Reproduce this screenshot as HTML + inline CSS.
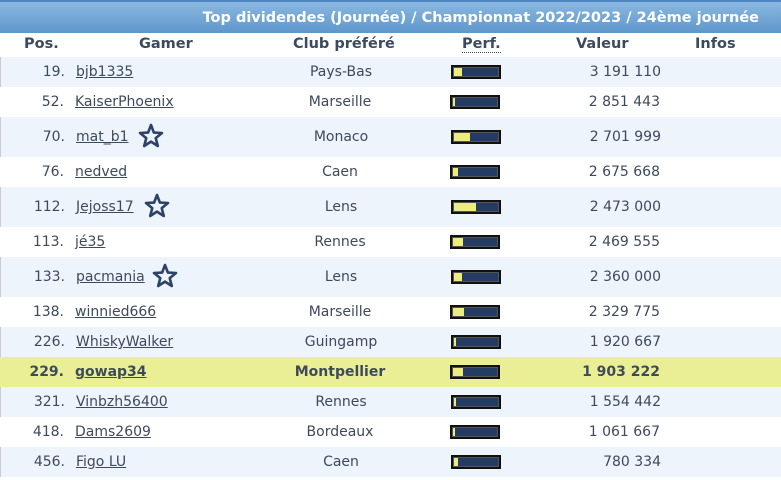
<!DOCTYPE html>
<html><head><meta charset="utf-8"><style>
*{margin:0;padding:0;box-sizing:border-box}
body{width:781px;height:480px;background:#fff;font-family:"DejaVu Sans",Verdana,sans-serif;font-size:14px;color:#3d4a5c;overflow:hidden;position:relative}
.title{position:absolute;left:0;top:0;width:781px;height:33px;background:linear-gradient(#8ab8e0,#5e97cb);color:#fff;font-weight:bold;font-size:14.5px;text-align:right;padding-right:22px;line-height:33px;border-top:2px solid #4d86c0}
.hdr{position:absolute;top:33px;height:24px;left:0;width:781px;font-weight:bold;color:#3d4a5c;font-size:14.5px}
.hdr span{position:absolute;top:3px}
.row{position:absolute;left:0;width:781px}
.row.l{background:#eef4fc;border-left:1px solid #c8ccd2}
.row.h{background:#eaef96;font-weight:bold}
.row span{position:absolute}
a{color:#3d4a5c;text-decoration:underline}
.bar{position:absolute;left:450px;width:50px;height:14px;background:#243c64;border:2px solid #111;box-shadow:inset 0 0 0 1px #555}
.bar i{position:absolute;left:1px;top:1px;bottom:1px;background:#ecec80}
.star{position:absolute}
</style></head><body>
<div class="title">Top dividendes (Journée) / Championnat 2022/2023 / 24ème journée</div>
<div class="hdr">
<span style="left:24px">Pos.</span>
<span style="left:139px">Gamer</span>
<span style="left:293px">Club préféré</span>
<span style="left:462px;border-bottom:1px dotted #3d4a5c;line-height:16px">Perf.</span>
<span style="left:576px">Valeur</span>
<span style="left:695px">Infos</span>
</div>
<div id="rows"></div>
<script>
var d=[
["19.","bjb1335","Pays-Bas","3 191 110",8,30,0],
["52.","KaiserPhoenix","Marseille","2 851 443",2,30,0],
["70.","mat_b1","Monaco","2 701 999",16,40,1],
["76.","nedved","Caen","2 675 668",5,30,0],
["112.","Jejoss17","Lens","2 473 000",22,40,1],
["113.","jé35","Rennes","2 469 555",10,30,0],
["133.","pacmania","Lens","2 360 000",8,40,1],
["138.","winnied666","Marseille","2 329 775",11,30,0],
["226.","WhiskyWalker","Guingamp","1 920 667",2,30,0],
["229.","gowap34","Montpellier","1 903 222",10,30,0],
["321.","Vinbzh56400","Rennes","1 554 442",2,30,0],
["418.","Dams2609","Bordeaux","1 061 667",2,30,0],
["456.","Figo LU","Caen","780 334",4,30,0]];
var y=57,h="";
var star='<svg width="26" height="26" viewBox="0 0 26 26"><polygon points="13,2 15.9,9.6 24,10 17.7,15.1 19.8,23 13,18.6 6.2,23 8.3,15.1 2,10 10.1,9.6" fill="none" stroke="#2c4266" stroke-width="2.6" stroke-linejoin="round"/></svg>';
d.forEach(function(r,i){
var cls=i==9?"h":(i%2==0?"l":"");
var cy=r[5]/2-8;
var starX={mat_b1:137,Jejoss17:143,pacmania:151}[r[1]];
h+='<div class="row '+cls+'" style="top:'+y+'px;height:'+r[5]+'px">'+
'<span style="left:0;width:64px;text-align:right;top:'+cy+'px">'+r[0]+'</span>'+
'<span style="left:75px;top:'+cy+'px"><a>'+r[1]+'</a></span>'+
(r[6]?'<span class="star" style="left:'+starX+'px;top:'+(r[5]/2-14)+'px">'+star+'</span>':'')+
'<span style="left:250px;width:180px;text-align:center;top:'+cy+'px">'+r[2]+'</span>'+
'<div class="bar" style="top:'+(r[5]/2-7)+'px"><i style="width:'+r[4]+'px"></i></div>'+
'<span style="left:540px;width:120px;text-align:right;top:'+cy+'px">'+r[3]+'</span></div>';
y+=r[5];});
document.getElementById("rows").innerHTML=h;
</script>
</body></html>
